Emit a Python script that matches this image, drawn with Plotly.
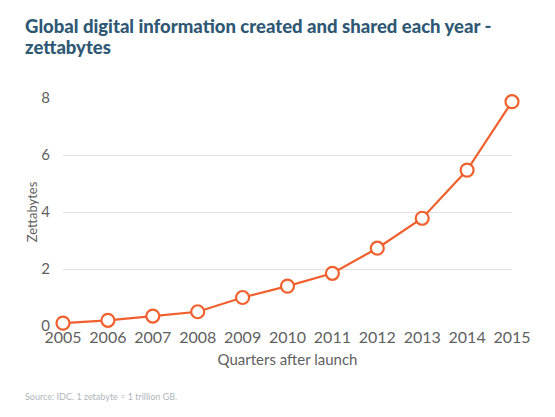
import plotly.graph_objects as go

years = [2005, 2006, 2007, 2008, 2009, 2010, 2011, 2012, 2013, 2014, 2015]
zettabytes = [0.1, 0.2, 0.35, 0.5, 1.0, 1.4, 1.85, 2.73, 3.78, 5.47, 7.87]
y_ticks = [0, 2, 4, 6, 8]

title_line1 = "Global digital information created and shared each year -"
title_line2 = "zettabytes"
source_text = "Source: IDC. 1 zetabyte = 1 trillion GB."

line_color = "#f0602e"
title_color = "#2e5874"
font_family = "Lato, 'Open Sans', sans-serif"

# page body adds an 8px offset, so the figure is drawn 8px smaller
W, H = 547, 409
L, R, T, B = 55, 43, 90, 91
pw, ph = W - L - R, H - T - B


def px_x(x):
    return (x - L) / pw


def px_y(y):
    return (H - B - y) / ph


fig = go.Figure()
fig.add_trace(go.Scatter(
    x=years, y=zettabytes, mode="lines+markers",
    line=dict(color=line_color, width=2.2),
    marker=dict(size=13, color="white", line=dict(color=line_color, width=2.2)),
    cliponaxis=False, showlegend=False,
))

title_font = dict(size=18.5, color=title_color, family=font_family, weight=900)

fig.update_layout(
    width=W, height=H,
    paper_bgcolor="white", plot_bgcolor="white",
    margin=dict(l=L, r=R, t=T, b=B),
    font=dict(family=font_family, color="#666666"),
    title=dict(text=title_line1, x=17 / W, xanchor="left",
               xref="container", y=1 - 19 / H, yanchor="middle", pad=dict(l=0, t=0),
               font=title_font),
    xaxis=dict(range=[2005, 2015], tickvals=years, showgrid=False, zeroline=False,
               showline=False, ticks="", automargin=False,
               tickfont=dict(size=16, color="#5f5f5f"),
               title=dict(text="Quarters after launch", font=dict(size=15, color="#5f5f5f"),
                          standoff=9)),
    yaxis=dict(range=[0, 8], tickvals=y_ticks, showgrid=True, gridcolor="#e2e2e2",
               gridwidth=1, zeroline=False, showline=False, ticks="", automargin=False,
               tickfont=dict(size=15, color="#5f5f5f"), ticklabelstandoff=12,
               title=dict(text="Zettabytes", font=dict(size=13, color="#5f5f5f"),
                          standoff=0)),
    annotations=[
        dict(text=title_line2, x=px_x(15), y=px_y(39),
             xref="paper", yref="paper", xanchor="left", yanchor="middle",
             showarrow=False, font=title_font),
        dict(text=source_text, x=px_x(15), y=px_y(388),
             xref="paper", yref="paper", xanchor="left", yanchor="middle",
             showarrow=False, font=dict(size=9, color="#b0b6bb")),
    ],
)

fig.write_html("out.html")
